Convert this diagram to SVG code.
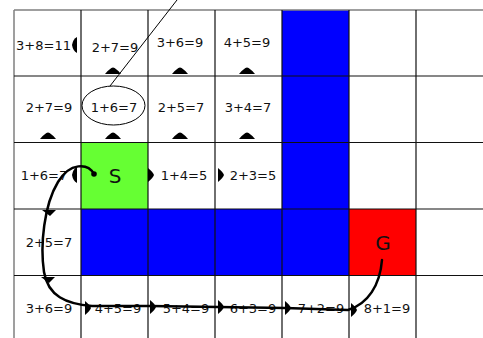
<svg xmlns="http://www.w3.org/2000/svg" xmlns:xlink="http://www.w3.org/1999/xlink" width="483" height="338" viewBox="0 0 483 338">
<style>
  .t { font-family: "DejaVu Sans", Verdana, sans-serif; font-size: 13px; fill: #111; text-anchor: middle; }
  .big { font-family: "DejaVu Sans", Verdana, sans-serif; font-size: 20px; fill: #111; text-anchor: middle; }
  .grid { stroke: #111; stroke-width: 1.2; fill: none; }
  .gridg { stroke: #808080; stroke-width: 1.5; fill: none; }
  .wall { fill: #0000ff; }
  .path { fill: none; stroke: #000; stroke-width: 2.5; stroke-linecap: round; }
</style>
<defs>
  <path id="up" d="M-8,0 Q-3,-6 0,-6.5 Q3,-6 8,0 Z" fill="#000"/>
  <path id="left" d="M0,0 Q1,-6 5,-8 L5,8 Q1,6 0,0 Z" fill="#000"/>
  <path id="right" d="M0,-7 Q5,-3 6,0 Q5,3 0,7 Z" fill="#000"/>
  <path id="down" d="M-7,0 L7,0 L1,6 Z" fill="#000"/>
</defs>
<rect width="483" height="338" fill="#fff"/>

<g id="cells">
  <rect class="wall" x="282" y="10" width="67" height="265.5"/>
  <rect class="wall" x="81" y="209" width="201" height="66.5"/>
  <rect id="start" x="81" y="142.5" width="67" height="66.5" fill="#66ff33"/>
  <rect id="goal" x="349" y="209" width="67" height="66.5" fill="#ff0000"/>
</g>

<g id="gridlines">
  <path class="gridg" d="M14,10 H483 M14,10 V338"/>
  <path class="grid" d="M14,76 H483 M14,142.5 H483 M14,209 H483 M14,275.5 H483"/>
  <path class="grid" d="M81,10 V338 M148,10 V338 M215,10 V338 M282,10 V338 M349,10 V338 M416,10 V338"/>
</g>

<g id="row0">
  <text class="t" x="43.5" y="50">3+8=11</text>
  <text class="t" x="115" y="52">2+7=9</text>
  <text class="t" x="180" y="47">3+6=9</text>
  <text class="t" x="247" y="47">4+5=9</text>
  <use xlink:href="#left" x="72" y="45"/>
  <use xlink:href="#up" x="113" y="74"/>
  <use xlink:href="#up" x="180" y="74"/>
  <use xlink:href="#up" x="247" y="74"/>
</g>

<g id="row1">
  <text class="t" x="49" y="112">2+7=9</text>
  <text class="t" x="114" y="112">1+6=7</text>
  <text class="t" x="181" y="112">2+5=7</text>
  <text class="t" x="248" y="112">3+4=7</text>
  <use xlink:href="#up" x="48" y="139"/>
  <use xlink:href="#up" x="113" y="139"/>
  <use xlink:href="#up" x="180" y="139"/>
  <use xlink:href="#up" x="247" y="139"/>
</g>

<g id="row2">
  <text class="t" x="44" y="180">1+6=7</text>
  <text class="big" x="115" y="183">S</text>
  <text class="t" x="184" y="180">1+4=5</text>
  <text class="t" x="253" y="180">2+3=5</text>
  <use xlink:href="#left" x="72" y="175"/>
  <use xlink:href="#right" x="148" y="175"/>
  <use xlink:href="#right" x="218" y="175"/>
</g>

<g id="row3">
  <text class="t" x="49" y="247">2+5=7</text>
  <text class="big" x="383" y="250">G</text>
</g>

<g id="row4">
  <text class="t" x="49" y="313">3+6=9</text>
  <text class="t" x="118" y="313">4+5=9</text>
  <text class="t" x="186" y="313">5+4=9</text>
  <text class="t" x="253" y="313">6+3=9</text>
  <text class="t" x="321" y="313">7+2=9</text>
  <text class="t" x="387" y="313">8+1=9</text>
</g>

<g id="annotation">
  <ellipse cx="113.5" cy="105.5" rx="31.5" ry="19.5" fill="none" stroke="#000" stroke-width="1"/>
  <line x1="110" y1="86" x2="177" y2="0" stroke="#000" stroke-width="1"/>
</g>

<g id="connectors">
  <circle cx="94" cy="174" r="2.8" fill="#000"/>
  <path class="path" d="M94,174 C88,163 70,162 58,182 C44,205 40,245 44,272 C48,296 66,304 92,306 L150,306 L218,307 L285,308 L348,310 C368,304 380,285 382,260"/>
  <use xlink:href="#down" x="49" y="210"/>
  <use xlink:href="#down" x="48" y="277"/>
  <use xlink:href="#right" x="85" y="308"/>
  <use xlink:href="#right" x="150" y="307"/>
  <use xlink:href="#right" x="218" y="307"/>
  <use xlink:href="#right" x="285" y="308"/>
  <use xlink:href="#right" x="351" y="310"/>
</g>
</svg>
